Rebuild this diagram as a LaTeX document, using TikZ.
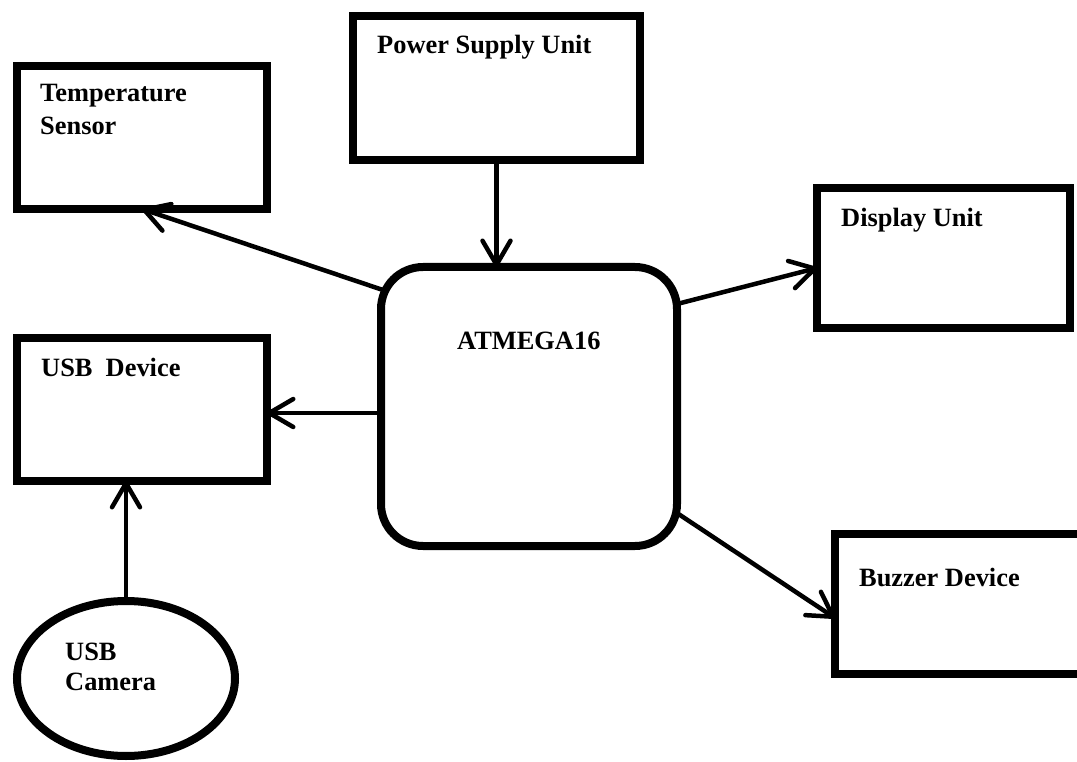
\documentclass[tikz,border=0pt]{standalone}
\usepackage{fontspec}
\setmainfont{Liberation Serif}
\usetikzlibrary{arrows.meta,calc,shapes.geometric}
\begin{document}
\begin{tikzpicture}[x=1pt,y=-1pt,
  blk/.style={draw,line width=8pt,inner sep=0pt,outer sep=0pt,rectangle},
  lbl/.style={anchor=base west,inner sep=0pt,font=\fontsize{26.4}{33}\selectfont\bfseries},
  conn/.style={line width=4.5pt,-{Straight Barb[length=24pt,width=28pt,round]}}]
\clip (0,0) rectangle (1077,762);
\fill[white] (0,0) rectangle (1077,762);
% blocks
\node[blk,minimum width=250pt,minimum height=143pt] (ts) at (142,137.5) {};
\node[blk,minimum width=287pt,minimum height=144pt] (pwr) at (496.5,88) {};
\node[blk,minimum width=253pt,minimum height=140pt] (disp) at (943.5,258) {};
\node[blk,minimum width=250pt,minimum height=143pt] (usb) at (142,409.5) {};
\node[blk,minimum width=255pt,minimum height=140pt] (buz) at (962.5,604) {};
\node[blk,rounded corners=42pt,minimum width=296pt,minimum height=279pt] (atm) at (529,406.5) {};
\node[draw,ellipse,line width=8pt,inner sep=0pt,outer sep=0pt,minimum width=218pt,minimum height=155pt] (cam) at (126,678.5) {};
% labels
\node[lbl] (tsl1) at (40,102) {Temperature};
\node[lbl] (tsl2) at (40,135) {Sensor};
\node[lbl] (pwrl) at (377,54) {Power Supply Unit};
\node[lbl] (displ) at (841,227) {Display Unit};
\node[lbl] (usbl) at (41,376) {USB\ \ Device};
\node[lbl] (atml) at (457,349) {ATMEGA16};
\node[lbl] (buzl) at (859,586) {Buzzer Device};
\node[lbl] (caml1) at (65,660) {USB};
\node[lbl] (caml2) at (65,690) {Camera};
% connectors
\draw[conn] (pwr.south) -- (pwr.south |- atm.north);
\draw[conn] ($(atm.north west)+(2,23)$) -- (ts.south);
\draw[conn] ($(atm.west)+(0,6.5)$) -- ($(usb.east)+(0,3.5)$);
\draw[conn] (cam.north) -- (cam.north |- usb.south);
\draw[conn] ($(atm.north east)+(0,37)$) -- ($(disp.west)+(0,10)$);
\draw[conn] ($(atm.south east)+(0,-33)$) -- ($(buz.west)+(0,14)$);
\end{tikzpicture}
\end{document}
